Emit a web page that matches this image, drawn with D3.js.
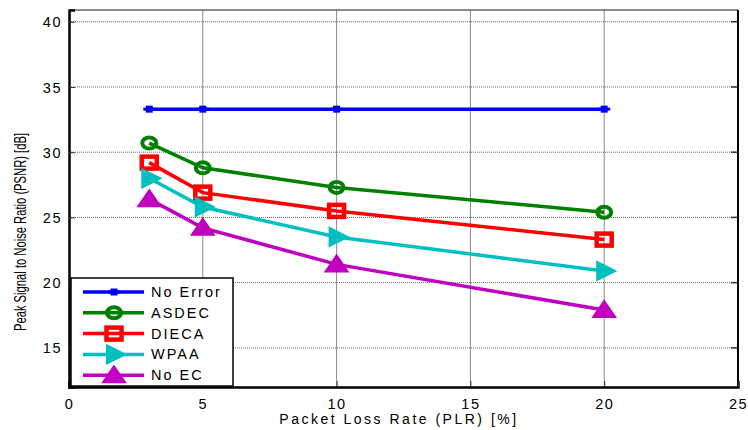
<!DOCTYPE html>
<html>
<head>
<meta charset="utf-8">
<script src="https://cdn.jsdelivr.net/npm/d3@7"></script>
<style>
  body { margin: 0; background: #fff; }
  svg text { font-family: "Liberation Sans", Arial, sans-serif; }
</style>
</head>
<body>
<svg width="748" height="430"></svg>
<script>
var plr = [3, 5, 10, 20];
var noError = [33.3, 33.3, 33.3, 33.3];
var asdec = [30.7, 28.8, 27.3, 25.4];
var dieca = [29.2, 26.9, 25.5, 23.3];
var wpaa = [28.0, 25.8, 23.5, 20.9];
var noEC = [26.4, 24.2, 21.4, 17.9];
var xTicks = [0, 5, 10, 15, 20, 25];
var yTicks = [15, 20, 25, 30, 35, 40];

var series = [
  {name: "No Error", values: noError, color: "#0000ff", marker: "plus"},
  {name: "ASDEC", values: asdec, color: "#008000", marker: "circle"},
  {name: "DIECA", values: dieca, color: "#ff0000", marker: "square"},
  {name: "WPAA", values: wpaa, color: "#00bfbf", marker: "right"},
  {name: "No EC", values: noEC, color: "#bf00bf", marker: "up"}
];

var svg = d3.select("svg"),
  margin = {top: 10, right: 10, bottom: 43, left: 69},
  width = 748 - margin.left - margin.right,
  height = 430 - margin.top - margin.bottom,
  g = svg.append("g").attr("transform", "translate(" + margin.left + "," + margin.top + ")");

var x = d3.scaleLinear().domain([0, 25]).range([0, width]);
var y = d3.scaleLinear().domain([12, 40.9]).range([height, 0]);

// grid
g.selectAll(".vgrid").data(xTicks.slice(1, -1)).enter().append("line")
  .attr("x1", x).attr("x2", x).attr("y1", 0).attr("y2", height)
  .attr("stroke", "#8a8a8a").attr("stroke-width", 1);
g.selectAll(".hgrid").data(yTicks).enter().append("line")
  .attr("x1", 0).attr("x2", width).attr("y1", y).attr("y2", y)
  .attr("stroke", "#666").attr("stroke-width", 1).attr("stroke-dasharray", "1,1");

// right inner ticks
g.selectAll(".rtick").data(yTicks).enter().append("line")
  .attr("x1", width - 7).attr("x2", width).attr("y1", y).attr("y2", y)
  .attr("stroke", "#333").attr("stroke-width", 1.5);

// frame
g.append("line").attr("x1", 0).attr("x2", width).attr("y1", 0).attr("y2", 0)
  .attr("stroke", "#666").attr("stroke-width", 1.5);
g.append("line").attr("x1", width).attr("x2", width).attr("y1", 0).attr("y2", height)
  .attr("stroke", "#000").attr("stroke-width", 2);

var xAxis = g.append("g").attr("transform", "translate(0," + height + ")")
  .call(d3.axisBottom(x).tickValues(xTicks).tickSize(-6).tickPadding(12));
var yAxis = g.append("g")
  .call(d3.axisLeft(y).tickValues(yTicks).tickSize(-6).tickPadding(7));
[xAxis, yAxis].forEach(function(a) {
  a.select(".domain").attr("stroke", "#000").attr("stroke-width", 2.5);
  a.selectAll(".tick line").attr("stroke", "#333");
  a.selectAll("text").attr("font-size", 14.5).attr("fill", "#000").style("letter-spacing", "1.5px");
});
yAxis.selectAll("text").attr("dy", "0.35em");

svg.append("text")
  .attr("x", 399).attr("y", 424).attr("text-anchor", "middle")
  .attr("font-size", 14).style("letter-spacing", "2.5px")
  .text("Packet Loss Rate (PLR) [%]");
svg.append("text")
  .attr("transform", "translate(26,232) rotate(-90) scale(0.68,1)")
  .attr("text-anchor", "middle")
  .attr("font-size", 16.5)
  .text("Peak Signal to Noise Ratio (PSNR) [dB]");

function drawMarker(sel, type, color) {
  if (type === "plus") {
    sel.append("rect").attr("x", -3.5).attr("y", -3.5).attr("width", 7).attr("height", 7).attr("fill", color);
    sel.append("rect").attr("x", -6).attr("y", -1.5).attr("width", 12).attr("height", 3).attr("fill", color);
  } else if (type === "circle") {
    sel.append("ellipse").attr("rx", 7).attr("ry", 5.5).attr("fill", "none").attr("stroke", color).attr("stroke-width", 4);
  } else if (type === "square") {
    sel.append("rect").attr("x", -7.5).attr("y", -6).attr("width", 15).attr("height", 12)
      .attr("fill", "none").attr("stroke", color).attr("stroke-width", 4.5);
  } else if (type === "right") {
    sel.append("path").attr("d", "M-7,-9L11,0L-7,9Z").attr("fill", color).attr("stroke", color).attr("stroke-width", 2);
  } else if (type === "up") {
    sel.append("path").attr("d", "M0,-9L11,7L-11,7Z").attr("fill", color).attr("stroke", color).attr("stroke-width", 2);
  }
}

var line = d3.line()
  .x(function(d, i) { return x(plr[i]); })
  .y(function(d) { return y(d); });

series.forEach(function(s) {
  g.append("path").datum(s.values)
    .attr("d", line).attr("fill", "none")
    .attr("stroke", s.color).attr("stroke-width", 3.5);
  s.values.forEach(function(v, i) {
    drawMarker(g.append("g").attr("transform", "translate(" + x(plr[i]) + "," + y(v) + ")"), s.marker, s.color);
  });
});

// legend
var legend = svg.append("g").attr("transform", "translate(71,278)");
legend.append("rect").attr("width", 162).attr("height", 108)
  .attr("fill", "#fff").attr("stroke", "#000").attr("stroke-width", 1.5);
series.forEach(function(s, i) {
  var row = legend.append("g").attr("transform", "translate(0," + (14 + i * 20.8) + ")");
  row.append("line").attr("x1", 12).attr("x2", 73).attr("stroke", s.color).attr("stroke-width", 3.5);
  drawMarker(row.append("g").attr("transform", "translate(43,0)"), s.marker, s.color);
  row.append("text").attr("x", 80).attr("dy", "0.35em").attr("font-size", 14.5)
    .style("letter-spacing", "2px").text(s.name);
});
</script>
</body>
</html>
